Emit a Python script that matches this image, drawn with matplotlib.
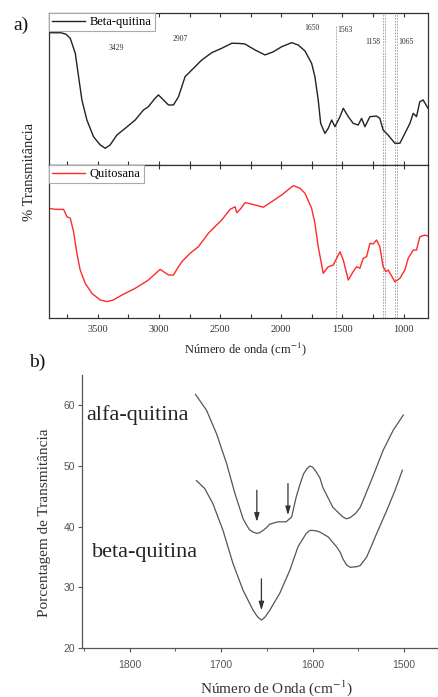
import matplotlib
matplotlib.use("Agg")
import matplotlib.pyplot as plt
from matplotlib.ticker import MultipleLocator

plt.rcParams['mathtext.fontset'] = 'stix'
SERIF = ['Liberation Serif', 'DejaVu Serif']
SANS = ['Liberation Sans', 'DejaVu Sans']

# ---------------- Panel a data ----------------
beta_w = [3900, 3800, 3760, 3726, 3685, 3658, 3631, 3590, 3536, 3481, 3440, 3400, 3345,
          3277, 3195, 3127, 3087, 3032, 3005, 2964, 2923, 2882, 2841, 2787, 2732, 2650,
          2569, 2487, 2405, 2350, 2297, 2215, 2133, 2065, 1997, 1915, 1861, 1806, 1752,
          1725, 1698, 1678, 1643, 1616, 1588, 1561, 1520, 1493, 1452, 1412, 1371, 1343,
          1316, 1275, 1221, 1194, 1167, 1126, 1071, 1030, 989, 948, 921, 894, 867, 840, 800]
beta_t = [87.0, 87.0, 86.0, 83.3, 73.5, 58.1, 42.8, 29.6, 18.6, 13.2, 11.0, 13.2, 19.7,
          24.1, 29.6, 36.2, 38.4, 43.9, 46.1, 42.8, 39.5, 39.5, 44.9, 58.1, 62.5, 69.1,
          73.9, 76.8, 80.1, 80.0, 79.6, 75.7, 72.4, 74.5, 77.8, 80.5, 78.9, 75.0, 66.9,
          58.1, 42.8, 27.4, 20.8, 24.1, 29.6, 25.2, 31.8, 37.3, 31.8, 27.4, 26.3, 30.7,
          25.2, 31.8, 32.2, 30.7, 23.0, 19.7, 14.3, 14.3, 20.8, 27.4, 34.0, 31.8, 41.6, 42.8, 37.3]

quit_w = [3900, 3849, 3781, 3753, 3726, 3699, 3672, 3645, 3604, 3549, 3481, 3427, 3373,
          3304, 3195, 3087, 2991, 2923, 2882, 2841, 2813, 2746, 2678, 2596, 2487, 2419,
          2378, 2364, 2337, 2296, 2215, 2147, 2078, 1997, 1902, 1847, 1806, 1752, 1725,
          1698, 1657, 1616, 1575, 1520, 1493, 1452, 1412, 1384, 1357, 1330, 1302, 1275,
          1248, 1221, 1194, 1167, 1145, 1126, 1071, 1030, 989, 962, 921, 894, 867, 826, 800]
quit_t = [71.7, 71.0, 71.0, 66.2, 65.2, 56.4, 42.3, 31.4, 22.7, 16.1, 11.8, 10.7, 11.8,
          15.0, 19.4, 24.8, 31.8, 28.1, 28.1, 33.5, 36.8, 42.3, 46.6, 55.4, 64.1, 71.0,
          72.7, 68.8, 71.0, 75.4, 73.9, 72.4, 76.0, 80.4, 86.5, 84.8, 81.5, 71.7, 61.9,
          46.6, 29.2, 33.5, 34.6, 43.3, 37.9, 24.8, 30.3, 33.5, 32.5, 39.0, 40.1, 48.8,
          48.4, 51.0, 46.6, 33.5, 30.3, 31.4, 23.7, 25.9, 31.4, 39.0, 44.4, 44.4, 53.1, 54.2, 53.6]

peak_labels = ["3429", "2907", "1650", "1563", "1158", "1065"]
peak_pos = [3345, 2826, 1752, 1480, 1253, 982]
peak_y = [76.8, 82.9, 89.9, 88.8, 80.7, 80.7]
vlines_a = [1556, 1165, 1152, 1068, 1056]
xticks_a = [3500, 3000, 2500, 2000, 1500, 1000]

# ---------------- Panel b data ----------------
alfa_w = [1728, 1716, 1705, 1694, 1685, 1676, 1672, 1669, 1665, 1661, 1658, 1654, 1650,
          1647, 1638, 1629, 1623, 1618, 1614, 1610, 1606, 1603, 1600, 1596, 1592, 1589,
          1578, 1567, 1563, 1559, 1553, 1548, 1536, 1523, 1512, 1501]
alfa_t = [61.8, 59.2, 55.3, 50.4, 45.5, 41.3, 40.2, 39.5, 39.1, 38.9, 39.0, 39.4, 39.9,
          40.4, 40.8, 40.8, 41.6, 44.9, 46.9, 48.7, 49.6, 50.0, 49.8, 49.0, 48.0, 46.5,
          43.2, 41.6, 41.3, 41.5, 42.2, 43.2, 47.6, 52.6, 55.9, 58.4]
betab_w = [1727, 1718, 1709, 1698, 1687, 1676, 1665, 1660, 1656, 1652, 1647, 1636, 1625,
           1616, 1607, 1604, 1601, 1596, 1592, 1583, 1574, 1570, 1567, 1563, 1559, 1552,
           1548, 1541, 1530, 1519, 1510, 1502]
betab_t = [47.6, 46.3, 43.8, 39.4, 33.9, 29.5, 26.2, 25.1, 24.6, 25.1, 26.2, 29.0, 32.8,
           36.7, 38.9, 39.3, 39.4, 39.3, 39.1, 38.3, 36.7, 35.8, 34.7, 33.7, 33.3, 33.4,
           33.6, 35.0, 38.9, 42.7, 46.0, 49.3]
arrow_x = [1661, 1627, 1656]
arrow_from = [46.0, 47.1, 31.4]
arrow_to = [40.8, 41.9, 26.2]
yticks_b = [20, 30, 40, 50, 60]
xticks_b = [1800, 1700, 1600, 1500]

W, H = 439, 697
fig = plt.figure(figsize=(W / 100, H / 100), dpi=100)

def fx(px):
    return px / W

def fy(py):
    return 1 - py / H

axU = fig.add_axes([fx(49), fy(165), fx(428) - fx(49), fy(13) - fy(165)])
axL = fig.add_axes([fx(49), fy(318), fx(428) - fx(49), fy(165) - fy(318)])

for ax in (axU, axL):
    ax.set_xlim(3900, 800)
    ax.set_ylim(0, 100)
    ax.set_yticks([])
    ax.xaxis.set_major_locator(MultipleLocator(500))
    ax.xaxis.set_minor_locator(MultipleLocator(250))
    ax.tick_params(axis='x', which='both', direction='in', top=True, bottom=True,
                   length=3, width=0.8, color='#333333')
    for s in ax.spines.values():
        s.set_color('#333333')
        s.set_linewidth(0.9)
    for i, v in enumerate(vlines_a):
        ax.axvline(v, color='#999999', lw=0.6, ls=(0, (2, 1.5)),
                   ymax=(0.92 if (ax is axU and i == 0) else 1.0), zorder=1)

axU.set_xticklabels([])
axL.set_xticks(xticks_a)
axL.set_xticklabels([str(t) for t in xticks_a], fontfamily=SERIF, fontsize=7.5, color='#333333')
axL.tick_params(axis='x', which='major', pad=5)

axU.plot(beta_w, beta_t, color='#222222', lw=1.0, label='Beta-quitina', zorder=2)
axL.plot(quit_w, quit_t, color='#ff2a2a', lw=1.0, label='Quitosana', zorder=2)

for ax in (axU, axL):
    leg = ax.legend(loc='upper left', borderaxespad=0, fancybox=False, framealpha=1,
                    edgecolor='#aaaaaa', prop={'family': SERIF, 'size': 9},
                    handlelength=2.6, handletextpad=0.4, borderpad=0.25)
    leg.get_frame().set_linewidth(0.8)
    leg.set_zorder(5)

for lab, x, y in zip(peak_labels, peak_pos, peak_y):
    axU.text(x, y, lab, ha='center', va='center', fontfamily=SERIF, fontsize=5.5, color='#333333')

fig.text(fx(30), fy(172), '% Transmitância', rotation=90, ha='center', va='center',
         fontfamily=SERIF, fontsize=10.5, color='#222222')
fig.text(fx(245), fy(349), 'Número de onda (cm$^{-1}$)', ha='center', va='center',
         fontfamily=SERIF, fontsize=9, color='#222222')
fig.text(fx(21), fy(25), 'a)', ha='center', va='center', fontfamily=SERIF, fontsize=14, color='#111111')
fig.text(fx(37), fy(362), 'b)', ha='center', va='center', fontfamily=SERIF, fontsize=14, color='#111111')

# ---------------- Panel b ----------------
axB = fig.add_axes([fx(82), fy(648), 1 - fx(82), fy(375) - fy(648)])
axB.set_xlim(1852, 1462)
axB.set_ylim(20, 65)
axB.spines['top'].set_visible(False)
axB.spines['right'].set_visible(False)
for s in ('left', 'bottom'):
    axB.spines[s].set_color('#555555')
    axB.spines[s].set_linewidth(0.9)
axB.set_xticks(xticks_b)
axB.xaxis.set_minor_locator(MultipleLocator(50))
axB.set_yticks(yticks_b)
axB.tick_params(axis='both', which='major', direction='out', length=3, width=0.8,
                color='#555555', labelcolor='#555555', labelsize=7.5, pad=2)
axB.tick_params(axis='x', which='minor', direction='out', length=2, width=0.7, color='#555555')
for lbl in axB.get_xticklabels() + axB.get_yticklabels():
    lbl.set_fontfamily(SANS)
axB.tick_params(axis='x', which='major', pad=6)

axB.plot(alfa_w, alfa_t, color='#555555', lw=0.9)
axB.plot(betab_w, betab_t, color='#555555', lw=0.9)
for x, y0, y1 in zip(arrow_x, arrow_from, arrow_to):
    axB.annotate('', xy=(x, y1), xytext=(x, y0),
                 arrowprops=dict(arrowstyle='-|>,head_length=0.5,head_width=0.15',
                                 color='#333333', lw=0.9, shrinkA=0, shrinkB=0))

fig.text(fx(86), fy(415), 'alfa-quitina', ha='left', va='center', fontfamily=SERIF,
         fontsize=16, color='#222222')
fig.text(fx(92), fy(553), 'beta-quitina', ha='left', va='center', fontfamily=SERIF,
         fontsize=16, color='#222222')
fig.text(fx(45), fy(523), 'Porcentagem de Transmitância', rotation=90, ha='center', va='center',
         fontfamily=SERIF, fontsize=11, color='#333333')
fig.text(fx(276), fy(688), 'Número de Onda (cm$^{-1}$)', ha='center', va='center',
         fontfamily=SERIF, fontsize=11, color='#333333')

fig.savefig('out.png', dpi=100)
